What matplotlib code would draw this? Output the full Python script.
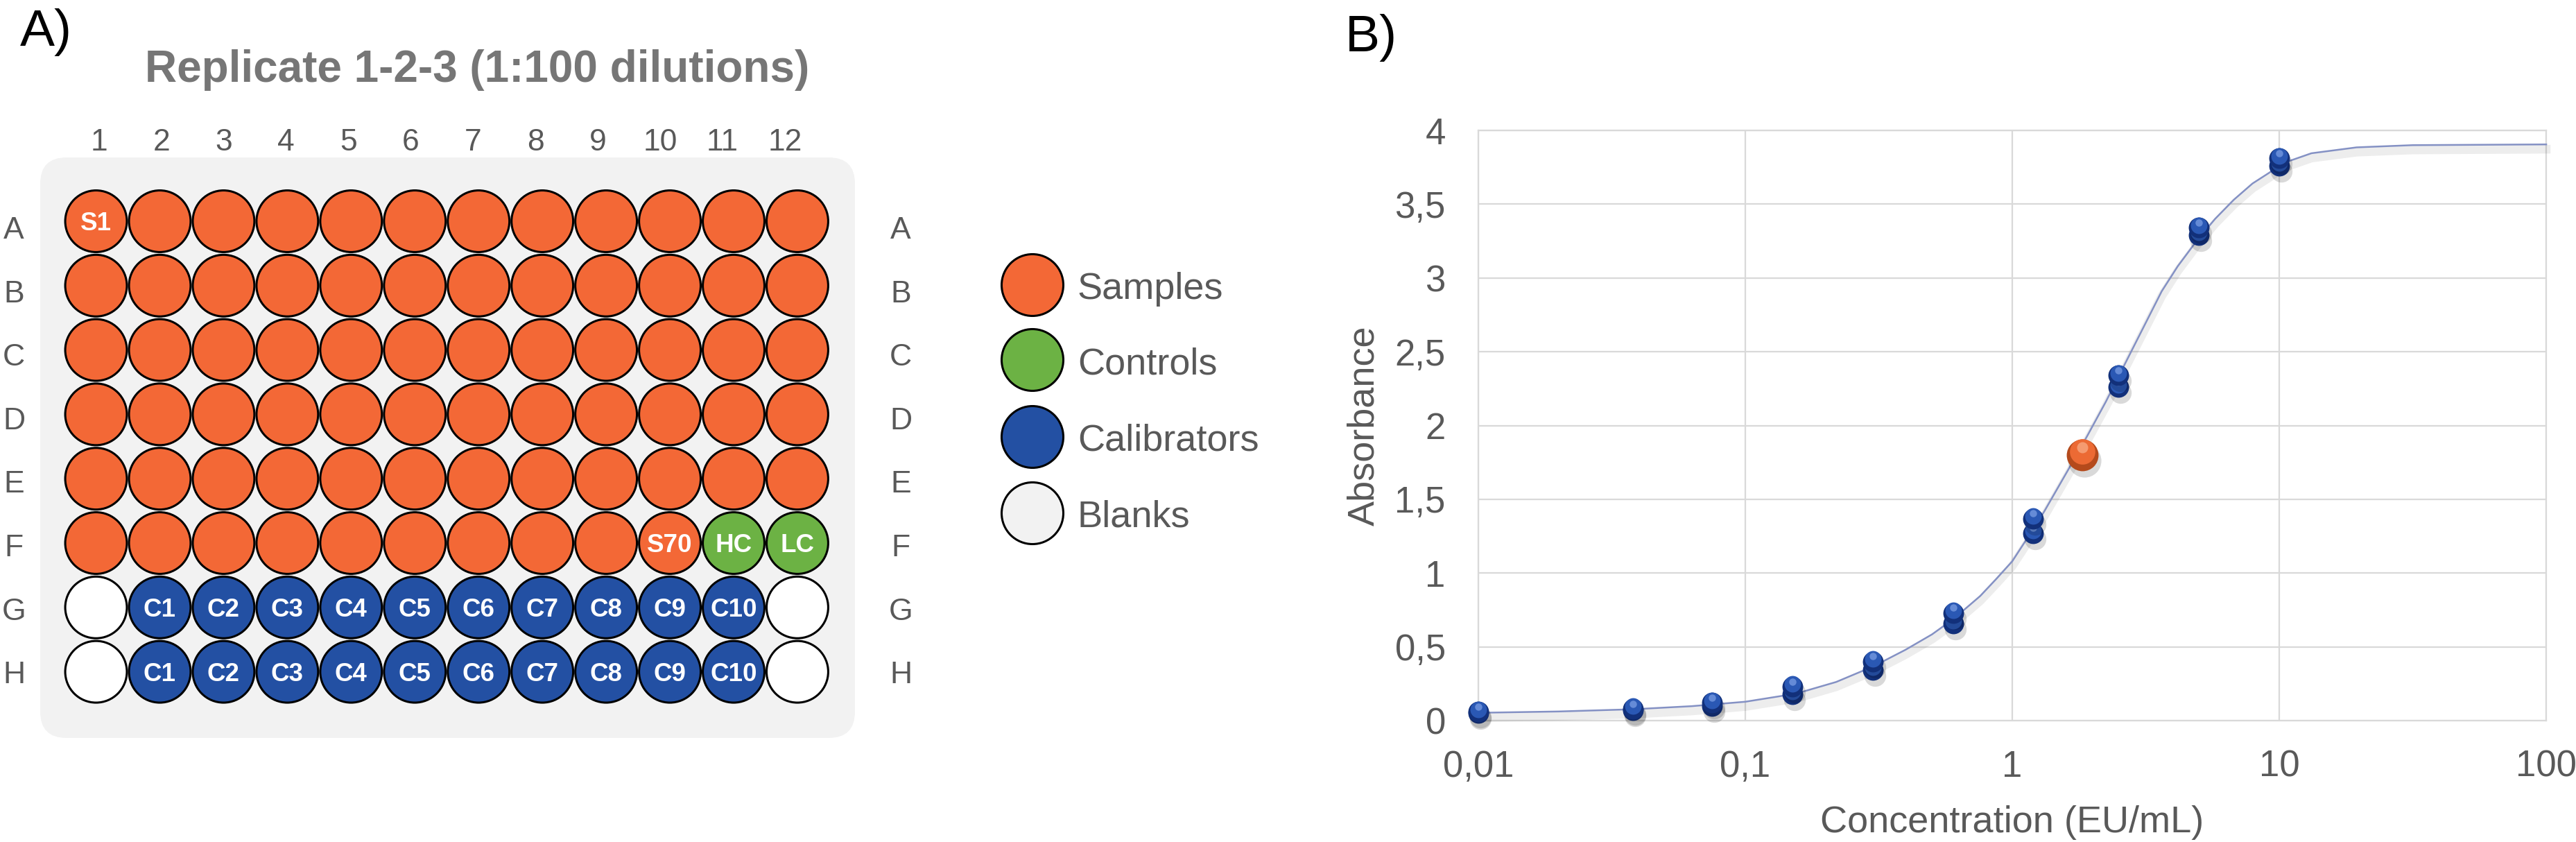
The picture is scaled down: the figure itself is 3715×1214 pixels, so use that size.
import matplotlib
matplotlib.use("Agg")
import matplotlib.pyplot as plt
import matplotlib.patheffects as pe
from matplotlib.patches import FancyBboxPatch, Circle
from matplotlib.transforms import offset_copy
import numpy as np

plt.rcParams['font.family'] = ['Liberation Sans', 'DejaVu Sans']

# ---------------- data ----------------
# plate layout, S = sample, Q = control, K = calibrator, B = blank
row_names = ["A", "B", "C", "D", "E", "F", "G", "H"]
col_names = [str(c) for c in range(1, 13)]
plate_layout = [
    "SSSSSSSSSSSS",
    "SSSSSSSSSSSS",
    "SSSSSSSSSSSS",
    "SSSSSSSSSSSS",
    "SSSSSSSSSSSS",
    "SSSSSSSSSSQQ",
    "BKKKKKKKKKKB",
    "BKKKKKKKKKKB",
]
well_labels = {
    ("A", 1): "S1",
    ("F", 10): "S70",
    ("F", 11): "HC",
    ("F", 12): "LC",
}
for rr in ["G", "H"]:
    for k in range(1, 11):
        well_labels[(rr, k + 1)] = "C" + str(k)

legend_names = ["Samples", "Controls", "Calibrators", "Blanks"]
legend_codes = ["S", "Q", "K", "B"]

# calibration curve (duplicates)
cal_conc = [0.01, 0.038, 0.075, 0.15, 0.3, 0.6, 1.2, 2.5, 5, 10]
cal_abs_1 = [0.06, 0.08, 0.12, 0.23, 0.40, 0.73, 1.37, 2.34, 3.34, 3.81]
cal_abs_2 = [0.05, 0.07, 0.10, 0.18, 0.345, 0.66, 1.27, 2.26, 3.29, 3.76]
sample_conc = [1.83]
sample_abs = [1.80]

# fitted curve
fit_conc = [0.01, 0.02, 0.038, 0.063, 0.1, 0.155, 0.219, 0.302, 0.398, 0.501,
            0.603, 0.759, 0.871, 1.0, 1.21, 1.32, 1.62, 1.91, 2.24, 2.63,
            3.09, 3.63, 4.17, 4.9, 5.75, 6.76, 7.94, 9.12, 10.0, 10.8,
            13.2, 19.5, 31.6, 100]
fit_abs = [0.053, 0.062, 0.077, 0.098, 0.128, 0.183, 0.262, 0.368, 0.48, 0.585,
           0.69, 0.845, 0.96, 1.08, 1.31, 1.42, 1.70, 1.93, 2.16, 2.41,
           2.66, 2.91, 3.08, 3.25, 3.40, 3.53, 3.64, 3.71, 3.76, 3.79,
           3.845, 3.885, 3.90, 3.905]

x_ticks = [0.01, 0.1, 1, 10, 100]
x_tick_labels = ["0,01", "0,1", "1", "10", "100"]
y_ticks = [0, 0.5, 1, 1.5, 2, 2.5, 3, 3.5, 4]
y_tick_labels = ["0", "0,5", "1", "1,5", "2", "2,5", "3", "3,5", "4"]

colors = {"S": "#F36836", "Q": "#6CB244", "K": "#2350A3", "B": "#FFFFFF"}
legend_colors = {"S": "#F36836", "Q": "#6CB244", "K": "#2350A3", "B": "#F2F2F2"}
TXT = "#595959"

W, H = 3716, 1214
fig = plt.figure(figsize=(W / 100, H / 100), dpi=100)

# overlay axes in pixel units for the plate frame, labels and legend
ov = fig.add_axes([0, 0, 1, 1])
ov.set_xlim(0, W)
ov.set_ylim(H, 0)
ov.axis("off")

ov.add_patch(FancyBboxPatch((58, 227), 1175, 837,
                            boxstyle="round,pad=0,rounding_size=38",
                            fc="#F2F2F2", ec="none", zorder=0))

ov.text(29, 66, "A)", fontsize=54, color="black", ha="left", va="baseline")
ov.text(1940, 74, "B)", fontsize=54, color="black", ha="left", va="baseline")
ov.text(688, 118, "Replicate 1-2-3 (1:100 dilutions)", fontsize=46,
        fontweight="bold", color="#767676", ha="center", va="baseline")

for i, c in enumerate(col_names):
    ov.text(143 + i * 89.9, 217, c, fontsize=32, color=TXT,
            ha="center", va="baseline")
for i, r in enumerate(row_names):
    yb = 344 + i * 91.6
    ov.text(20, yb, r, fontsize=32, color=TXT, ha="center", va="baseline")
    ov.text(1299, yb, r, fontsize=32, color=TXT, ha="center", va="baseline")

# legend
for i, (name, code) in enumerate(zip(legend_names, legend_codes)):
    yc = [411, 519, 630, 740][i]
    ov.add_patch(Circle((1489, yc), 44.5, fc=legend_colors[code],
                        ec="black", lw=2.2, zorder=2))
    ov.text(1554, yc + 20, name, fontsize=39, color=TXT,
            ha="left", va="baseline")

# plate wells
col_pitch, row_pitch = 91.95, 92.8
x0_px, y0_px = 138.5 - col_pitch / 2, 319 - row_pitch / 2
pl = fig.add_axes([x0_px / W, 1 - (y0_px + 8 * row_pitch) / H,
                   12 * col_pitch / W, 8 * row_pitch / H])
pl.set_xlim(0.5, 12.5)
pl.set_ylim(7.5, -0.5)
pl.axis("off")
pl.patch.set_alpha(0)

xs, ys, cs = [], [], []
for ri, line in enumerate(plate_layout):
    for ci, code in enumerate(line):
        xs.append(ci + 1)
        ys.append(ri)
        cs.append(colors[code])
pl.scatter(xs, ys, s=64 ** 2, c=cs, edgecolors="black", linewidths=2.2,
           zorder=2, clip_on=False)

cap_off = 13.5 / row_pitch
for (r, c), lab in well_labels.items():
    ri = row_names.index(r)
    pl.text(c, ri + cap_off, lab, fontsize=26.5, fontweight="bold",
            color="white", ha="center", va="baseline", zorder=3)

# ---------------- calibration curve ----------------
ax = fig.add_axes([2132 / W, 1 - 1039 / H, 1540 / W, 851 / H])
ax.set_xscale("log")
ax.set_xlim(0.01, 100)
ax.set_ylim(0, 4)
ax.set_xticks(x_ticks)
ax.set_xticklabels(x_tick_labels)
ax.set_yticks(y_ticks)
ax.set_yticklabels(y_tick_labels)
ax.minorticks_off()
ax.tick_params(length=0, labelsize=38, labelcolor=TXT)
ax.tick_params(axis="y", pad=34)
ax.tick_params(axis="x", pad=30)
ax.grid(True, color="#D9D9D9", lw=1.6)
ax.set_axisbelow(True)
for s in ax.spines.values():
    s.set_color("#D9D9D9")
    s.set_linewidth(1.6)
ax.set_xlabel("Concentration (EU/mL)", fontsize=39, color=TXT, labelpad=22)
ax.set_ylabel("Absorbance", fontsize=39, color=TXT, labelpad=14)

ax.plot(fit_conc, fit_abs, color="#8491C4", lw=1.8, zorder=3, clip_on=False,
        path_effects=[pe.SimpleLineShadow(offset=(0, -5), shadow_color="#000000",
                                          alpha=0.07, linewidth=9),
                      pe.Normal()])


def spheres(xv, yv, d, base, light, dark, z):
    sh = offset_copy(ax.transData, fig=fig, x=3, y=-8, units="dots")
    ax.plot(xv, yv, "o", ms=d * 1.05, mfc="black", mew=0, alpha=0.15,
            ls="none", transform=sh, zorder=z, clip_on=False)
    ax.plot(xv, yv, "o", ms=d, mfc=dark, mew=0, ls="none", zorder=z + 0.1,
            clip_on=False)
    up = offset_copy(ax.transData, fig=fig, x=0, y=d * 0.12, units="points")
    ax.plot(xv, yv, "o", ms=d * 0.8, mfc=base, mew=0, ls="none",
            transform=up, zorder=z + 0.2, clip_on=False)
    hi = offset_copy(ax.transData, fig=fig, x=0, y=d * 0.25, units="points")
    ax.plot(xv, yv, "o", ms=d * 0.35, mfc=light, mew=0, alpha=0.7, ls="none",
            transform=hi, zorder=z + 0.3, clip_on=False)


spheres(cal_conc, cal_abs_2, 21.5, "#2A58B4", "#7FA2E6", "#12307A", 4)
spheres(cal_conc, cal_abs_1, 21.5, "#2A58B4", "#7FA2E6", "#12307A", 5)
spheres(sample_conc, sample_abs, 33, "#EC6A34", "#F9B08A", "#B44A1C", 6)

fig.savefig("out.png", dpi=100)
